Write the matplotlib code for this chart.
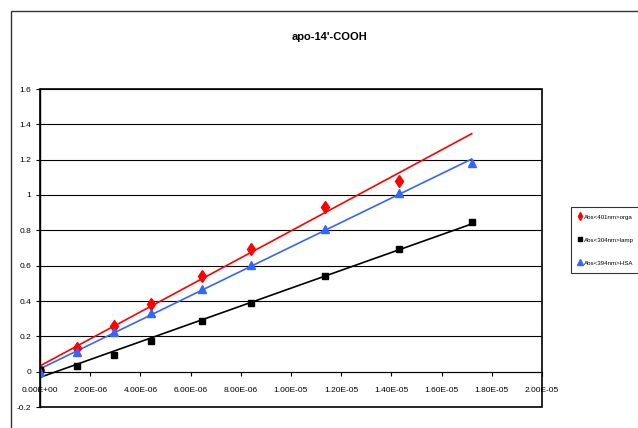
import numpy as np
import matplotlib.pyplot as plt
from matplotlib.patches import Rectangle
from matplotlib.ticker import FuncFormatter, MultipleLocator

plt.rcParams['font.family'] = ['Liberation Sans Narrow', 'Liberation Sans', 'DejaVu Sans']

# concentration (M)
conc = [0.0, 1.47e-6, 2.95e-6, 4.42e-6, 6.45e-6, 8.4e-6, 11.35e-6, 14.3e-6, 17.2e-6]

abs_orga = [0.01, 0.132, 0.26, 0.383, 0.543, 0.694, 0.93, 1.079]
abs_lamp = [0.01, 0.034, 0.096, 0.175, 0.285, 0.387, 0.543, 0.694, 0.845]
abs_hsa = [0.0, 0.11, 0.223, 0.33, 0.468, 0.606, 0.808, 1.01, 1.183]

labels = ['Abs<401nm>orga', 'Abs<304nm>lamp', 'Abs<394nm>HSA']
title = "apo-14'-COOH"

fig = plt.figure(figsize=(6.38, 4.28), dpi=100)
ax = fig.add_axes([40/638, 21/428, 502/638, 318/428])

series = [
    (abs_orga, 'd', '#ff0000', 6),
    (abs_lamp, 's', '#000000', 5),
    (abs_hsa, '^', '#3366ff', 6),
]
xmax = max(conc)
for (vals, mk, col, ms), lab in zip(series, labels):
    x = np.array(conc[:len(vals)])
    y = np.array(vals)
    ax.plot(x, y, linestyle='none', marker=mk, color=col, ms=ms, label=lab, zorder=4)
    k, b = np.polyfit(x, y, 1)
    xs = np.array([0.0, xmax])
    ax.plot(xs, k * xs + b, color=col, lw=1.2, zorder=3)

ax.set_xlim(0, 2e-5)
ax.set_ylim(-0.2, 1.6)
ax.yaxis.set_major_locator(MultipleLocator(0.2))
ax.xaxis.set_major_locator(MultipleLocator(2e-6))
ax.yaxis.set_major_formatter(FuncFormatter(lambda v, p: f'{v:g}' if abs(v) > 1e-9 else '0'))
ax.xaxis.set_major_formatter(FuncFormatter(lambda v, p: f'{v:.2E}'))
ax.grid(axis='y', color='black', lw=0.8)
ax.set_axisbelow(True)

ax.spines['bottom'].set_position(('data', 0))
ax.spines['top'].set_visible(False)
ax.spines['right'].set_visible(False)
ax.spines['left'].set_linewidth(1.0)
ax.add_patch(Rectangle((0, 0), 1, 1, transform=ax.transAxes, fill=False,
                       edgecolor='black', lw=1.2, clip_on=False, zorder=5))
ax.tick_params(axis='both', labelsize=6, length=3, width=0.8, direction='out')
ax.tick_params(axis='x', pad=8)

fig.text(330/638, 1 - 37/428, title, ha='center', va='center',
         fontsize=8, fontweight='bold', family=['Liberation Sans', 'DejaVu Sans'])

leg = fig.legend(loc='upper left', bbox_to_anchor=(571/638, 1 - 207/428),
                 fontsize=4.4, frameon=True, fancybox=False, edgecolor='black',
                 handlelength=0.6, handletextpad=0.4, labelspacing=2.9,
                 borderpad=1.2, borderaxespad=0.0, markerscale=0.7)
leg.get_frame().set_linewidth(0.8)

fig.patches.append(Rectangle((11/638, -0.1), 1.1, 1 - 11/428 + 0.1,
                             transform=fig.transFigure, fill=False,
                             edgecolor='#333333', lw=1.0))

fig.savefig('out.png', dpi=100)
